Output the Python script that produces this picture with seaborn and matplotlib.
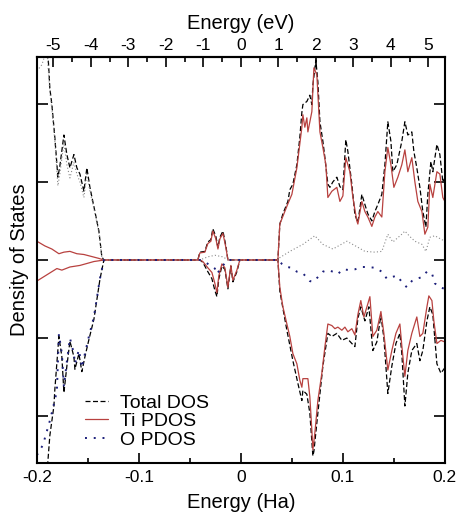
import numpy as np
import pandas as pd
import matplotlib
matplotlib.use("Agg")
import matplotlib.pyplot as plt
from matplotlib.ticker import MultipleLocator, FixedLocator
import seaborn as sns

HA2EV = 27.2114

# energies in Ha, DOS in arbitrary units (spin up > 0, spin down < 0)
total_up_e = [-0.2000, -0.1902, -0.1873, -0.1853, -0.1824, -0.1794, -0.1775, -0.1735, -0.1706, -0.1676,
              -0.1637, -0.1608, -0.1578, -0.1539, -0.1510, -0.1480, -0.1431, -0.1392, -0.1363, -0.1343,
              -0.0422, -0.0402, -0.0353, -0.0324, -0.0294, -0.0275, -0.0245, -0.0225, -0.0206, -0.0176,
              -0.0147, -0.0127,
              0.0363, 0.0382, 0.0412, 0.0461, 0.0480, 0.0510, 0.0549, 0.0578, 0.0598, 0.0608, 0.0647,
              0.0676, 0.0696, 0.0706, 0.0735, 0.0755, 0.0775, 0.0804, 0.0824, 0.0853, 0.0873, 0.0902,
              0.0941, 0.0971, 0.1000, 0.1029, 0.1049, 0.1088, 0.1118, 0.1147, 0.1186, 0.1216, 0.1245,
              0.1284, 0.1314, 0.1343, 0.1382, 0.1412, 0.1441, 0.1471, 0.1490, 0.1529, 0.1578, 0.1608,
              0.1637, 0.1676, 0.1696, 0.1725, 0.1755, 0.1784, 0.1814, 0.1833, 0.1863, 0.1882, 0.1922,
              0.1951, 0.1980, 0.2000]
total_up = [3.3, 2.9, 2.2, 1.99, 1.57, 1.06, 1.2, 1.6, 1.35, 1.18,
            1.35, 1.18, 1.1, 0.88, 1.18, 0.93, 0.62, 0.37, 0.04, 0.0,
            0.0, 0.1, 0.11, 0.23, 0.26, 0.4, 0.3, 0.16, 0.29, 0.37,
            0.18, 0.0,
            0.0, 0.46, 0.59, 0.75, 0.9, 0.97, 1.22, 1.57, 1.89, 1.99, 2.03,
            2.11, 1.99, 2.24, 2.56, 2.28, 1.77, 1.52, 1.31, 0.97, 0.93, 1.0,
            1.06, 0.94, 0.9, 1.54, 1.39, 0.97, 0.58, 0.48, 0.84, 0.71, 0.59,
            0.5, 0.62, 0.71, 0.84, 1.22, 1.77, 1.52, 1.13, 1.22, 1.52, 1.77,
            1.6, 1.64, 1.39, 1.18, 0.93, 0.62, 0.42, 0.84, 1.26, 1.13, 1.48,
            1.35, 1.0, 1.05]

total_dn_e = [-0.2000, -0.1902, -0.1873, -0.1833, -0.1824, -0.1784, -0.1755, -0.1735, -0.1706, -0.1676,
              -0.1637, -0.1627, -0.1588, -0.1559, -0.1529, -0.1490, -0.1441, -0.1412, -0.1382, -0.1343,
              -0.0402, -0.0373, -0.0324, -0.0284, -0.0255, -0.0235, -0.0216, -0.0186, -0.0157, -0.0127,
              -0.0098, -0.0078, -0.0039, -0.0010,
              0.0363, 0.0382, 0.0451, 0.0510, 0.0559, 0.0598, 0.0608, 0.0647, 0.0676, 0.0706, 0.0716,
              0.0755, 0.0804, 0.0853, 0.0892, 0.0941, 0.0990, 0.1039, 0.1088, 0.1118, 0.1147, 0.1176,
              0.1216, 0.1255, 0.1294, 0.1333, 0.1373, 0.1402, 0.1441, 0.1480, 0.1520, 0.1559, 0.1578,
              0.1608, 0.1637, 0.1676, 0.1725, 0.1755, 0.1784, 0.1824, 0.1853, 0.1882, 0.1922, 0.1961,
              0.2000]
total_dn = [-3.2, -2.75, -2.25, -1.87, -1.66, -0.98, -1.24, -1.7, -1.36, -1.04,
            -1.24, -1.4, -1.2, -1.43, -1.24, -1.02, -0.76, -0.51, -0.25, 0.0,
            0.0, -0.03, -0.15, -0.24, -0.39, -0.47, -0.24, -0.08, -0.12, -0.37,
            -0.08, -0.28, -0.15, 0.0,
            0.0, -0.4, -0.9, -1.29, -1.58, -1.8, -1.67, -1.72, -1.96, -2.51, -2.45,
            -1.96, -1.36, -0.94, -0.98, -0.94, -1.03, -1.0, -1.07, -1.11, -0.75, -0.6,
            -0.78, -0.6, -1.16, -1.05, -0.71, -1.0, -1.71, -1.36, -1.07, -0.94, -1.2,
            -1.87, -1.45, -1.16, -1.07, -1.29, -1.16, -0.78, -0.6, -0.7, -1.33, -1.45,
            -1.38]

ti_up_e = [-0.2000, -0.1922, -0.1853, -0.1784, -0.1735, -0.1676, -0.1608, -0.1539, -0.1480, -0.1392,
           -0.1343,
           -0.0422, -0.0402, -0.0353, -0.0324, -0.0294, -0.0275, -0.0245, -0.0225, -0.0206, -0.0176,
           -0.0147, -0.0127,
           0.0363, 0.0382, 0.0461, 0.0500, 0.0549, 0.0598, 0.0608, 0.0627, 0.0647, 0.0657, 0.0696,
           0.0716, 0.0745, 0.0775, 0.0804, 0.0833, 0.0853, 0.0892, 0.0941, 0.0971, 0.1000, 0.1029,
           0.1069, 0.1098, 0.1137, 0.1147, 0.1186, 0.1216, 0.1245, 0.1284, 0.1314, 0.1343, 0.1382,
           0.1412, 0.1441, 0.1471, 0.1500, 0.1539, 0.1578, 0.1608, 0.1637, 0.1676, 0.1706, 0.1735,
           0.1775, 0.1804, 0.1833, 0.1853, 0.1882, 0.1922, 0.1951, 0.1980, 0.2000]
ti_up = [0.24, 0.18, 0.14, 0.08, 0.1, 0.11, 0.08, 0.07, 0.05, 0.02,
         0.0,
         0.0, 0.09, 0.1, 0.21, 0.24, 0.37, 0.27, 0.14, 0.27, 0.34,
         0.16, 0.0,
         0.0, 0.46, 0.72, 0.84, 1.18, 1.7, 1.86, 1.7, 1.82, 1.64, 1.9,
         2.46, 2.37, 1.64, 1.44, 1.22, 0.8, 0.88, 0.93, 0.75, 0.82, 1.31,
         1.13, 0.8, 0.5, 0.46, 0.75, 0.62, 0.55, 0.43, 0.55, 0.62, 0.55,
         1.13, 1.44, 1.22, 0.93, 1.06, 1.22, 1.41, 1.13, 1.31, 1.0, 0.75,
         0.62, 0.33, 0.42, 0.97, 0.8, 1.13, 1.1, 0.8, 0.75]

ti_dn_e = [-0.2000, -0.1902, -0.1804, -0.1755, -0.1676, -0.1578, -0.1441, -0.1363, -0.1343,
           -0.0402, -0.0373, -0.0324, -0.0284, -0.0255, -0.0235, -0.0216, -0.0186, -0.0157, -0.0127,
           -0.0098, -0.0078, -0.0039, -0.0010,
           0.0363, 0.0382, 0.0412, 0.0451, 0.0480, 0.0510, 0.0549, 0.0578, 0.0598, 0.0608, 0.0657,
           0.0676, 0.0696, 0.0706, 0.0725, 0.0755, 0.0794, 0.0824, 0.0853, 0.0892, 0.0922, 0.0951,
           0.0990, 0.1020, 0.1049, 0.1088, 0.1118, 0.1147, 0.1176, 0.1206, 0.1245, 0.1265, 0.1294,
           0.1333, 0.1373, 0.1402, 0.1441, 0.1480, 0.1520, 0.1559, 0.1578, 0.1608, 0.1637, 0.1676,
           0.1725, 0.1755, 0.1784, 0.1824, 0.1843, 0.1873, 0.1892, 0.1922, 0.1961, 0.2000]
ti_dn = [-0.27, -0.19, -0.11, -0.13, -0.09, -0.07, -0.02, -0.005, 0.0,
         0.0, -0.02, -0.1, -0.16, -0.3, -0.42, -0.2, -0.05, -0.1, -0.35,
         -0.07, -0.26, -0.13, 0.0,
         0.0, -0.35, -0.6, -0.82, -0.98, -1.2, -1.33, -1.54, -1.63, -1.52, -1.52,
         -1.75, -2.18, -2.43, -2.22, -1.8, -1.45, -1.11, -0.82, -0.84, -0.88, -0.86,
         -0.9, -0.86, -0.92, -0.88, -0.96, -0.7, -0.52, -0.73, -0.56, -0.47, -0.98,
         -0.9, -0.66, -0.94, -1.41, -1.16, -0.94, -0.82, -1.1, -1.49, -1.16, -0.94,
         -0.73, -0.98, -0.94, -0.6, -0.46, -0.52, -0.78, -1.07, -1.03, -1.05]

o_up_e = [-0.2000, -0.1951, -0.1902, -0.1873, -0.1853, -0.1824, -0.1794, -0.1775, -0.1735, -0.1706,
          -0.1676, -0.1637, -0.1608, -0.1578, -0.1539, -0.1510, -0.1480, -0.1431, -0.1392, -0.1363,
          -0.1343,
          -0.0402, -0.0324, -0.0255, -0.0176, -0.0127,
          0.0363, 0.0382, 0.0480, 0.0608, 0.0725, 0.0804, 0.0902, 0.1039, 0.1137, 0.1216, 0.1314,
          0.1382, 0.1441, 0.1490, 0.1578, 0.1608, 0.1657, 0.1706, 0.1775, 0.1814, 0.1853, 0.1902,
          0.1971, 0.2000]
o_up = [2.42, 2.5, 2.7, 2.15, 1.93, 1.52, 0.95, 1.1, 1.5, 1.22,
        1.05, 1.25, 1.1, 1.0, 0.8, 1.1, 0.88, 0.6, 0.35, 0.03,
        0.0,
        0.0, 0.04, 0.06, 0.04, 0.0,
        0.0, 0.03, 0.11, 0.2, 0.31, 0.2, 0.14, 0.24, 0.17, 0.11, 0.1,
        0.11, 0.33, 0.23, 0.33, 0.37, 0.3, 0.24, 0.2, 0.11, 0.29, 0.31,
        0.26, 0.24]

o_dn_e = [-0.2000, -0.1941, -0.1873, -0.1843, -0.1804, -0.1784, -0.1755, -0.1735, -0.1706, -0.1676,
          -0.1637, -0.1627, -0.1588, -0.1559, -0.1529, -0.1490, -0.1441, -0.1412, -0.1382, -0.1343,
          -0.0402, -0.0373, -0.0324, -0.0255, -0.0235, -0.0176, -0.0127,
          0.0363, 0.0402, 0.0451, 0.0500, 0.0549, 0.0608, 0.0676, 0.0706, 0.0755, 0.0804, 0.0853,
          0.0902, 0.0951, 0.1000, 0.1069, 0.1118, 0.1186, 0.1245, 0.1314, 0.1382, 0.1431, 0.1480,
          0.1529, 0.1578, 0.1627, 0.1676, 0.1725, 0.1775, 0.1824, 0.1873, 0.1902, 0.1951, 0.2000]
o_dn = [-2.5, -2.37, -2.06, -1.9, -1.68, -0.95, -1.2, -1.62, -1.3, -1.0,
        -1.2, -1.33, -1.15, -1.38, -1.2, -0.98, -0.73, -0.49, -0.24, 0.0,
        0.0, -0.01, -0.05, -0.11, -0.18, -0.07, 0.0,
        0.0, -0.05, -0.09, -0.1, -0.15, -0.17, -0.27, -0.28, -0.22, -0.15, -0.13,
        -0.15, -0.18, -0.12, -0.13, -0.12, -0.09, -0.09, -0.1, -0.15, -0.24, -0.22,
        -0.2, -0.28, -0.35, -0.27, -0.24, -0.22, -0.15, -0.17, -0.3, -0.35, -0.37]

legend_labels = ["Total DOS", "Ti PDOS", "O PDOS"]
ha_ticks = [-0.2, -0.1, 0.0, 0.1, 0.2]
ha_labels = ["-0.2", "-0.1", "0", "0.1", "0.2"]
ev_ticks = [-5, -4, -3, -2, -1, 0, 1, 2, 3, 4, 5]
ev_labels = ["-5", "-4", "-3", "-2", "-1", "0", "1", "2", "3", "4", "5"]

sns.set_style("ticks")
plt.rcParams["font.family"] = ["Liberation Sans", "DejaVu Sans"]
plt.rcParams["axes.unicode_minus"] = False
plt.rcParams["text.color"] = "black"
plt.rcParams["axes.labelcolor"] = "black"
plt.rcParams["xtick.color"] = "black"
plt.rcParams["ytick.color"] = "black"
plt.rcParams["axes.edgecolor"] = "black"

fig = plt.figure(figsize=(4.61, 5.13), dpi=100)
ax = fig.add_axes([0.080, 0.0975, 0.885, 0.7915])

red = "#b8413f"
navy = "#1c1f7a"

sns.lineplot(x=total_up_e, y=total_up, ax=ax, color="black", lw=0.9, estimator=None, sort=False,
             linestyle=(0, (4, 2)))
sns.lineplot(x=total_dn_e, y=total_dn, ax=ax, color="black", lw=0.9, estimator=None, sort=False,
             linestyle=(0, (4, 2)), label=legend_labels[0])
sns.lineplot(x=ti_up_e, y=ti_up, ax=ax, color=red, lw=0.9, estimator=None, sort=False)
sns.lineplot(x=ti_dn_e, y=ti_dn, ax=ax, color=red, lw=0.9, estimator=None, sort=False,
             label=legend_labels[1])
sns.lineplot(x=o_up_e, y=o_up, ax=ax, color="#8a8a8a", lw=0.8, estimator=None, sort=False,
             linestyle=(0, (1, 2)))
sns.lineplot(x=o_dn_e, y=o_dn, ax=ax, color=navy, lw=1.4, estimator=None, sort=False,
             linestyle=(0, (1, 3.5)), label=legend_labels[2])

ax.set_xlim(-0.2, 0.2)
ax.set_ylim(-2.6, 2.6)
ax.xaxis.set_major_locator(FixedLocator(ha_ticks))
ax.set_xticklabels(ha_labels)
ax.xaxis.set_minor_locator(MultipleLocator(0.05))
ax.set_yticks([-2, -1, 0, 1, 2])
ax.set_yticklabels([])
ax.tick_params(axis="x", which="major", direction="in", length=7, width=1.2, labelsize=12.5, pad=5)
ax.tick_params(axis="x", which="minor", direction="in", length=3.6, width=1.2)
ax.tick_params(axis="y", direction="in", length=8, width=1.2, right=True)
for s in ax.spines.values():
    s.set_linewidth(1.5)
    s.set_visible(True)

ax.set_xlabel("Energy (Ha)", fontsize=14.5, labelpad=6)
ax.set_ylabel("Density of States", fontsize=14.5, labelpad=2)

top = ax.secondary_xaxis("top", functions=(lambda x: x * HA2EV, lambda e: e / HA2EV))
top.xaxis.set_major_locator(FixedLocator(ev_ticks))
top.set_xticklabels(ev_labels)
top.xaxis.set_minor_locator(FixedLocator(np.arange(-5.5, 5.6, 1.0)))
top.tick_params(axis="x", which="major", direction="in", length=7, width=1.2, labelsize=12.5, pad=3)
top.tick_params(axis="x", which="minor", direction="in", length=3.6, width=1.2)
top.set_xlabel("Energy (eV)", fontsize=14.5, labelpad=6)
top.spines["top"].set_linewidth(1.5)

leg = ax.legend(loc="lower left", bbox_to_anchor=(0.118, 0.035), frameon=False, fontsize=14,
                handlelength=1.2, handletextpad=0.6, labelspacing=0.05, borderpad=0, borderaxespad=0)

fig.savefig("out.png", dpi=100)
